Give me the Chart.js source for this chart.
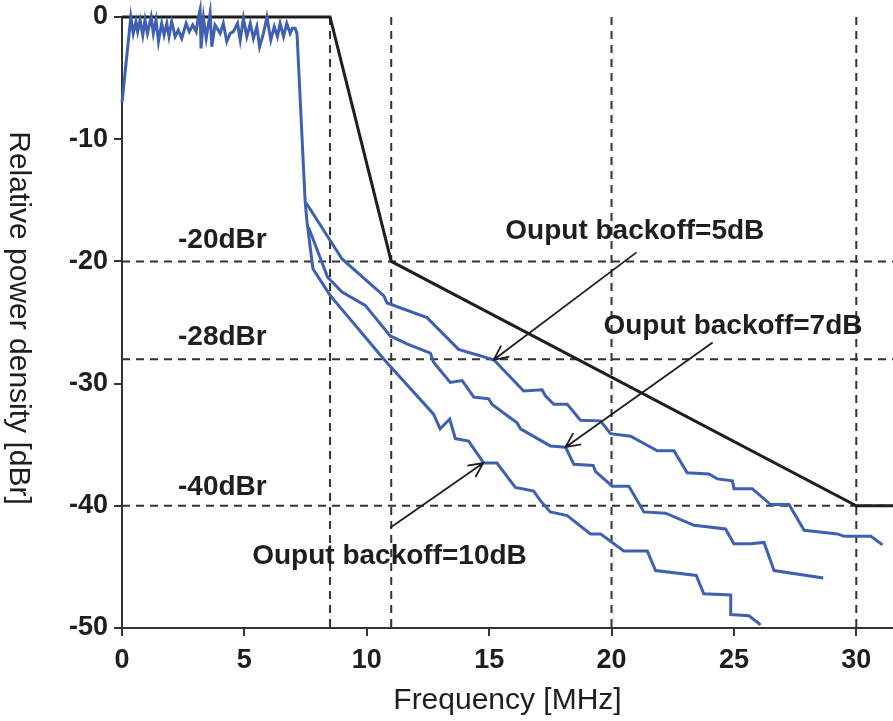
<!DOCTYPE html>
<html>
<head>
<meta charset="utf-8">
<script src="https://cdn.jsdelivr.net/npm/chart.js@4.4.1/dist/chart.umd.min.js"></script>
<style>
  html, body { margin: 0; padding: 0; background: #fff; }
  #wrap { width: 893px; height: 721px; }
</style>
</head>
<body>
<div id="wrap"><canvas id="psd-chart" width="893" height="721"></canvas></div>
<script>
// axis range + ticks
const freqMax = 31.5;
const xTicks = [0, 5, 10, 15, 20, 25, 30];
const yTicks = [0, -10, -20, -30, -40, -50];

// spectrum mask (black)
const maskFreq = [0, 8.5, 11, 30, 31.5];
const maskLevel = [0, 0, -20, -40, -40];

// dashed guide lines
const guideFreq = [8.5, 11, 20, 30];
const guideLevel = [-20, -28, -40];

// backoff = 10dB, incl. passband and the steep edge
const bo10Freq = [0, 0.36, 0.46, 0.57, 0.64, 0.74, 0.85, 0.94, 1.04, 1.19, 1.28, 1.39, 1.49, 1.62, 1.72, 1.83, 1.92,
    2.03, 2.17, 2.30, 2.44, 2.62, 2.75, 2.89, 3.03, 3.10, 3.19, 3.23, 3.33, 3.44, 3.60, 3.67, 3.80, 4.01, 4.14,
    4.28, 4.42, 4.55, 4.72, 4.83, 4.96, 5.10, 5.24, 5.37, 5.51, 5.62, 5.78, 5.92, 6.08, 6.22, 6.35, 6.46, 6.60,
    6.73, 6.87, 6.96, 7.07, 7.15, 7.48, 7.55, 7.8, 8.51, 10.7, 12.73, 13.0, 13.39, 13.62, 14.16, 14.78, 15.32,
    16.07, 16.82, 17.1, 17.5, 18.19, 19.14, 19.55, 20.5, 21.46, 21.8, 23.46, 23.77, 24.87, 24.87, 25.62, 26.09];
const bo10Level = [-7.0, 0.0, -1.34, -0.38, -1.2, -0.25, -1.48, -0.25, -1.34, 0.0, -1.34, -0.25, -2.0, -0.52, -1.48, -0.52, -1.6,
    -0.38, -1.6, -1.07, -1.75, -0.52, -1.2, -0.66, -1.2, -0.25, 0.57, -2.57, -0.11, -1.75, 0.3, -2.43, -0.66, -1.34, -0.52,
    -2.0, -1.34, -1.2, -0.52, -1.89, -0.11, -1.6, -0.52, -1.75, -0.79, -2.43, -1.34, 0.0, -1.89, -0.79, -1.6, -0.52, -1.6,
    -0.52, -1.34, -0.93, -0.93, -1.34, -15.0, -16.6, -20.6, -22.8, -28.0, -32.5, -33.7, -32.9, -34.5, -34.7, -36.5, -36.5,
    -38.5, -38.8, -39.6, -40.5, -40.8, -42.3, -42.3, -43.7, -43.7, -45.3, -45.7, -47.2, -47.3, -48.9, -49.0, -49.75];

// backoff = 7dB
const bo7Freq = [7.62, 8.4, 8.99, 9.94, 10.96, 11.64, 12.6, 12.73, 13.41, 13.9, 14.37, 14.98, 15.12, 16.14, 16.28, 17.5,
    18.12, 18.46, 19.25, 19.35, 20.03, 20.71, 21.32, 22.21, 23.37, 24.66, 25.0, 25.69, 26.23, 26.64, 28.65];
const bo7Level = [-17.2, -21.3, -22.5, -23.6, -26.1, -26.75, -27.5, -28.25, -29.9, -29.75, -31.1, -31.25, -31.7, -33.2, -33.7, -35.1,
    -35.2, -36.6, -36.7, -37.2, -38.4, -38.4, -40.5, -40.6, -41.6, -41.9, -43.1, -43.1, -43.0, -45.3, -45.9];

// backoff = 5dB
const bo5Freq = [7.52, 8.99, 10.69, 10.83, 12.46, 13.75, 15.19, 16.41, 17.16, 17.3, 17.64, 18.19, 18.73, 19.55, 19.96, 20.78,
    21.87, 22.55, 23.09, 23.98, 24.32, 24.94, 25.0, 25.75, 26.5, 27.25, 27.87, 29.23, 29.5, 30.6, 31.07];
const bo5Level = [-15.2, -19.8, -22.8, -23.4, -24.6, -27.2, -28.05, -30.6, -30.5, -31.0, -31.7, -31.7, -33.0, -33.05, -34.1, -34.3,
    -35.5, -35.5, -37.3, -37.4, -37.8, -37.95, -38.6, -38.6, -39.9, -39.9, -42.0, -42.3, -42.5, -42.5, -43.2];

// text notes (left edge, vertical middle) in data units
const noteText = ['-20dBr', '-28dBr', '-40dBr', 'Ouput backoff=5dB', 'Ouput backoff=7dB', 'Ouput backoff=10dB'];
const noteFreq = [2.29, 2.29, 2.29, 15.66, 19.67, 5.32];
const noteLevel = [-18.3, -26.2, -38.5, -17.5, -25.3, -44.1];

// arrows: tail -> head
const arrowFromFreq = [21.02, 24.13, 10.96];
const arrowFromLevel = [-19.26, -26.64, -41.8];
const arrowToFreq = [15.19, 18.12, 14.76];
const arrowToLevel = [-28.05, -35.2, -36.5];

const BLUE = '#3f60b2';
const INK = '#1e1e1e';
const FONT = "'Liberation Sans', Arial, sans-serif";

const toPoints = (xs, ys) => xs.map((x, i) => ({ x: x, y: ys[i] }));

function curve(label, xs, ys, color, width) {
    return {
        label: label,
        data: toPoints(xs, ys),
        borderColor: color,
        borderWidth: width,
        pointRadius: 0,
        tension: 0,
        fill: false,
        clip: false,
    };
}

function guide(points) {
    return {
        label: 'guide',
        data: points,
        borderColor: '#333',
        borderWidth: 2,
        borderDash: [8, 6],
        pointRadius: 0,
        fill: false,
        clip: false,
    };
}

const datasets = [
    curve('Ouput backoff=5dB', bo5Freq, bo5Level, BLUE, 3),
    curve('Ouput backoff=7dB', bo7Freq, bo7Level, BLUE, 3),
    curve('Ouput backoff=10dB', bo10Freq, bo10Level, BLUE, 3),
    curve('mask', maskFreq, maskLevel, INK, 3),
    ...guideFreq.map(f => guide([{ x: f, y: 0 }, { x: f, y: -50 }])),
    ...guideLevel.map(l => guide([{ x: 0, y: l }, { x: freqMax, y: l }])),
];

function drawArrow(ctx, x0, y0, x1, y1) {
    const ang = Math.atan2(y1 - y0, x1 - x0);
    const len = 16;
    ctx.beginPath();
    ctx.moveTo(x0, y0);
    ctx.lineTo(x1, y1);
    ctx.moveTo(x1 - len * Math.cos(ang - 0.45), y1 - len * Math.sin(ang - 0.45));
    ctx.lineTo(x1, y1);
    ctx.lineTo(x1 - len * Math.cos(ang + 0.45), y1 - len * Math.sin(ang + 0.45));
    ctx.stroke();
}

const notesPlugin = {
    id: 'psdNotes',
    afterDatasetsDraw(chart) {
        const { ctx } = chart;
        const x = chart.scales.x;
        const y = chart.scales.y;
        ctx.save();
        ctx.fillStyle = INK;
        ctx.font = 'bold 28px ' + FONT;
        ctx.textAlign = 'left';
        ctx.textBaseline = 'middle';
        noteText.forEach((t, i) => {
            ctx.fillText(t, x.getPixelForValue(noteFreq[i]), y.getPixelForValue(noteLevel[i]));
        });

        ctx.strokeStyle = INK;
        ctx.lineWidth = 1.8;
        arrowFromFreq.forEach((f, i) => {
            drawArrow(ctx,
                x.getPixelForValue(f), y.getPixelForValue(arrowFromLevel[i]),
                x.getPixelForValue(arrowToFreq[i]), y.getPixelForValue(arrowToLevel[i]));
        });

        // y title reads top to bottom
        ctx.font = '30px ' + FONT;
        ctx.textAlign = 'center';
        ctx.translate(18, 318);
        ctx.rotate(Math.PI / 2);
        ctx.fillText('Relative power density [dBr]', 0, 0);
        ctx.restore();
    }
};

new Chart(document.getElementById('psd-chart'), {
    type: 'line',
    data: { datasets: datasets },
    options: {
        responsive: false,
        animation: false,
        devicePixelRatio: 1,
        layout: { padding: { top: 17, right: 0, bottom: 0, left: 0 } },
        plugins: {
            legend: { display: false },
            tooltip: { enabled: false },
        },
        scales: {
            x: {
                type: 'linear',
                min: 0,
                max: freqMax,
                afterBuildTicks: s => { s.ticks = xTicks.map(v => ({ value: v })); },
                afterFit: s => { s.height = 93; },
                grid: { drawOnChartArea: false, drawTicks: true, tickLength: 8, color: '#333', lineWidth: 2 },
                border: { display: true, color: '#333', width: 2 },
                ticks: { color: INK, padding: 8, font: { family: FONT, size: 27, weight: 'bold' } },
                title: {
                    display: true,
                    text: 'Frequency [MHz]',
                    color: INK,
                    font: { family: FONT, size: 30 },
                    padding: { top: 0, bottom: 2 },
                },
            },
            y: {
                type: 'linear',
                min: -50,
                max: 0,
                afterBuildTicks: s => { s.ticks = yTicks.map(v => ({ value: v })); },
                afterFit: s => { s.width = 122; s.paddingTop = 0; s.paddingBottom = 0; },
                grid: { drawOnChartArea: false, drawTicks: true, tickLength: 8, color: '#333', lineWidth: 2 },
                border: { display: true, color: '#333', width: 2 },
                ticks: { color: INK, padding: 6, font: { family: FONT, size: 27, weight: 'bold' } },
            },
        },
    },
    plugins: [notesPlugin],
});
</script>
</body>
</html>
